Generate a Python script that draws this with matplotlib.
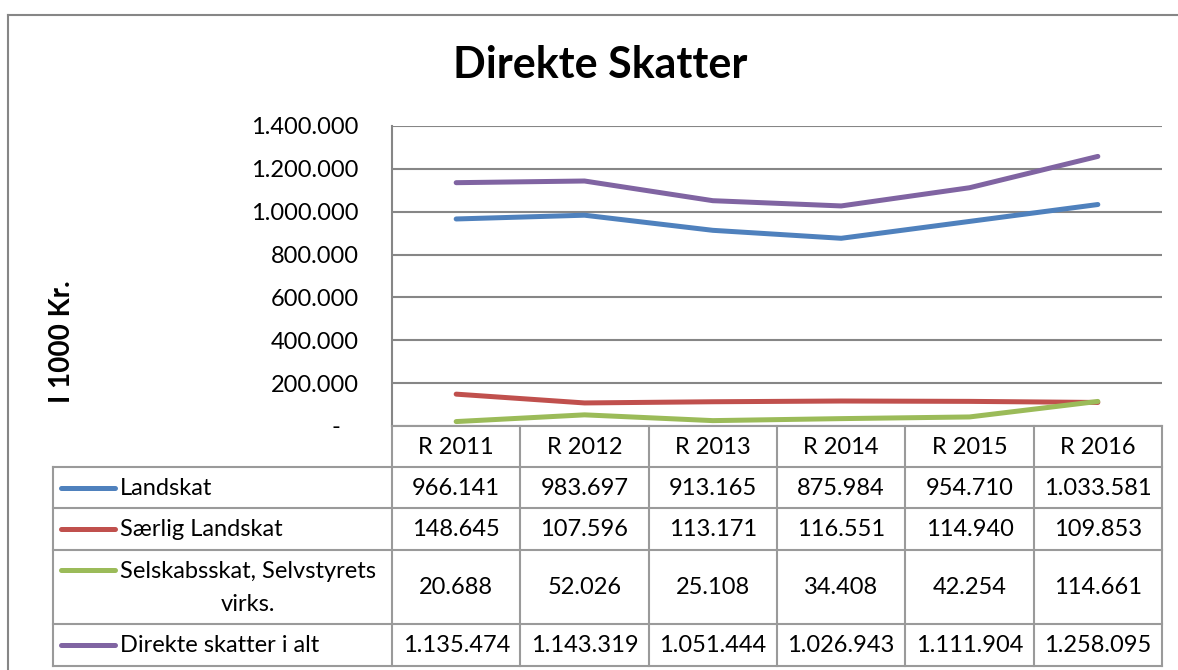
import matplotlib
matplotlib.use('Agg')
import matplotlib.pyplot as plt
from matplotlib.lines import Line2D

plt.rcParams['font.family'] = ['Lato', 'DejaVu Sans']

years = ['R 2011', 'R 2012', 'R 2013', 'R 2014', 'R 2015', 'R 2016']
landskat = [966141, 983697, 913165, 875984, 954710, 1033581]
saerlig = [148645, 107596, 113171, 116551, 114940, 109853]
selskab = [20688, 52026, 25108, 34408, 42254, 114661]
i_alt = [1135474, 1143319, 1051444, 1026943, 1111904, 1258095]

names = ['Landskat', 'Særlig Landskat', 'Selskabsskat, Selvstyrets\nvirks.', 'Direkte skatter i alt']
colors = ['#4F81BD', '#C0504D', '#9BBB59', '#8064A2']
series = [landskat, saerlig, selskab, i_alt]

W, H = 1178, 670
grid_c = '#868686'
tab_c = '#9A9A9A'
fs = 17


def fmt(v):
    if v == 0:
        return '-   '  # accounting style dash
    return f'{v:,}'.replace(',', '.')


fig = plt.figure(figsize=(W / 100, H / 100), dpi=100)

# pixel helpers (top-left origin)
def fx(x):
    return x / W


def fy(y):
    return 1 - y / H


# outer chart frame
fig.add_artist(Line2D([fx(8), fx(8)], [fy(15), fy(H + 5)], color=grid_c, lw=1.5))
fig.add_artist(Line2D([fx(8), fx(W + 5)], [fy(15), fy(15)], color=grid_c, lw=1.5))

# plot area
pl, pr, pt, pb = 392, 1162, 126, 426
ax = fig.add_axes([fx(pl), fy(pb), fx(pr - pl), (pb - pt) / H])
x = list(range(len(years)))
for vals, c in zip(series, colors):
    ax.plot(x, vals, color=c, lw=3.6, solid_capstyle='round', solid_joinstyle='round')
ax.set_xlim(-0.5, len(years) - 0.5)
ax.set_ylim(0, 1400000)
ax.set_yticks(range(0, 1400001, 200000))
ax.set_yticklabels([fmt(v) for v in range(0, 1400001, 200000)], fontsize=fs)
ax.tick_params(axis='y', length=0, pad=24)
ax.set_xticks([])
ax.grid(axis='y', color=grid_c, lw=1.5)
ax.set_axisbelow(True)
for s in ['top', 'right', 'bottom']:
    ax.spines[s].set_visible(False)
ax.spines['left'].set_color(grid_c)
ax.spines['left'].set_linewidth(1.5)

fig.text(fx(600), fy(65), 'Direkte Skatter', ha='center', va='center',
         fontsize=31, fontweight='bold')
fig.text(fx(62), fy(342), 'I 1000 Kr.', ha='center', va='center', rotation=90,
         fontsize=20, fontweight='bold')

# data table below the plot
tl = 53
tax = fig.add_axes([0, 0, 1, 1])
tax.set_xlim(0, W)
tax.set_ylim(H, 0)
tax.axis('off')

col_w = (pr - pl) / len(years)
row_edges = [426, 467, 508, 550, 624, 666]

def hline(y, x0, x1):
    tax.plot([x0, x1], [y, y], color=tab_c, lw=1.5)


def vline(xx, y0, y1):
    tax.plot([xx, xx], [y0, y1], color=tab_c, lw=1.5)


for i in range(len(years) + 1):
    vline(pl + i * col_w, row_edges[0], row_edges[-1])
vline(tl, row_edges[1], row_edges[-1])
hline(row_edges[0], pl, pr)
for y in row_edges[1:]:
    hline(y, tl, pr)

for i, yr in enumerate(years):
    tax.text(pl + (i + 0.5) * col_w, (row_edges[0] + row_edges[1]) / 2 + 1, yr,
             ha='center', va='center', fontsize=fs)

for r, (name, c, vals) in enumerate(zip(names, colors, series)):
    y0, y1 = row_edges[r + 1], row_edges[r + 2]
    yc = (y0 + y1) / 2
    ly = yc if '\n' not in name else y0 + 20
    tax.plot([61, 115], [ly, ly], color=c, lw=3.6, solid_capstyle='round')
    if '\n' in name:
        tax.text(120, yc + 1, name, ha='left', va='center', fontsize=fs,
                 multialignment='center', linespacing=1.75)
    else:
        tax.text(120, yc + 1, name, ha='left', va='center', fontsize=fs)
    for i, v in enumerate(vals):
        tax.text(pl + (i + 0.5) * col_w, yc + 1, fmt(v), ha='center', va='center',
                 fontsize=fs)

fig.savefig('out.png', dpi=100)
